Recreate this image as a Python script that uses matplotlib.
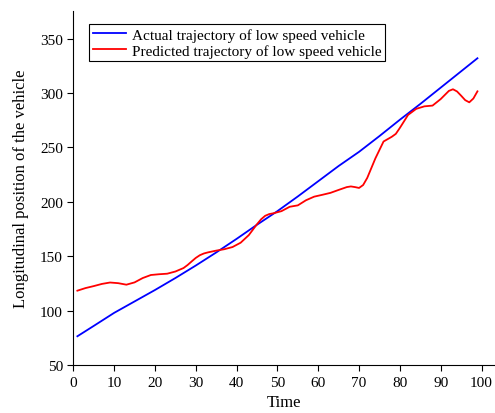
import numpy as np
import matplotlib.pyplot as plt

plt.rcParams['font.family'] = ['Liberation Serif', 'DejaVu Serif']

# actual trajectory (blue), nearly straight
t_actual = [1, 5, 10, 15, 20, 25, 30, 35, 40, 45, 50, 55, 60, 65, 70, 75, 80, 85, 90, 95, 99]
y_actual = [76.5, 86, 98, 108.5, 119, 130, 141.5, 153.5, 166, 179, 191.5, 205, 219, 233,
            246, 260.5, 275.5, 290, 305, 320, 332]

# predicted trajectory (red)
t_pred = [1, 3, 5, 7, 9, 11, 13, 15, 17, 19, 21, 23, 25, 27, 28, 29, 30, 31, 32, 33, 35,
          37, 39, 41, 43, 45, 46, 47, 48, 49, 51, 53, 55, 57, 59, 61, 63, 65, 67, 68, 69,
          70, 71, 72, 74, 76, 78, 79, 80, 82, 84, 86, 88, 90, 92, 93, 94, 95, 96, 97, 98, 99]
y_pred = [118.4, 120.8, 122.6, 124.6, 125.9, 125.3, 123.9, 126.0, 130.0, 132.8, 133.5,
          134.0, 136.0, 139.2, 142.0, 145.3, 148.5, 151.0, 152.6, 153.6, 155.2, 156.5,
          158.5, 162.5, 169.5, 179.5, 184.0, 187.2, 188.8, 189.5, 191.5, 195.5, 196.8,
          201.5, 204.8, 206.5, 208.3, 211.0, 213.6, 214.2, 213.6, 212.8, 215.5, 222.0,
          240.0, 255.5, 259.8, 262.5, 268.0, 279.9, 285.5, 287.8, 288.5, 294.5, 302.0,
          303.5, 301.5, 297.6, 293.5, 291.5, 295.0, 301.6]

fig = plt.figure(figsize=(4.95, 4.14), dpi=100)
ax = fig.add_axes([73.3 / 495, 47.9 / 414, 1 - 73.3 / 495, 354.4 / 414])

ax.plot(t_actual, y_actual, color='blue', lw=1.3, label='Actual trajectory of low speed vehicle')
ax.plot(t_pred, y_pred, color='red', lw=1.3, label='Predicted trajectory of low speed vehicle')

ax.set_xlim(0, 103.3)
ax.set_ylim(50, 375.7)
ax.set_xticks(np.arange(0, 101, 10))
ax.set_yticks(np.arange(50, 351, 50))
ax.spines['top'].set_visible(False)
ax.spines['right'].set_visible(False)
ax.tick_params(direction='out', length=4, width=0.8, labelsize=11)
ax.set_xlabel('Time', fontsize=12, labelpad=4)
ax.set_ylabel('Longitudinal position of the vehicle', fontsize=12, labelpad=8)

leg = ax.legend(loc='upper left', bbox_to_anchor=(0.037, 0.9625), fontsize=11,
                fancybox=False, edgecolor='black', framealpha=1,
                handlelength=2.2, handletextpad=0.35, borderpad=0.25,
                labelspacing=0.15, borderaxespad=0)
leg.get_frame().set_linewidth(0.8)

fig.savefig('out.png', dpi=100)
